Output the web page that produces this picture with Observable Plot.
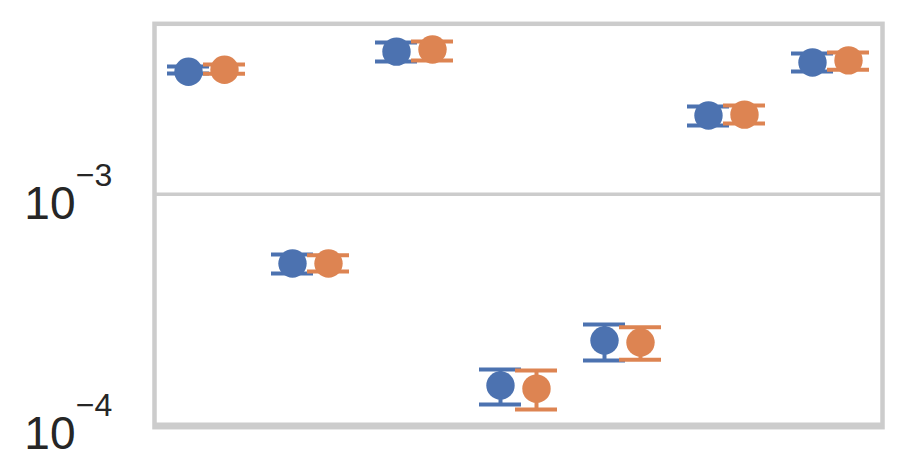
<!DOCTYPE html>
<html>
<head>
<meta charset="utf-8">
<script src="https://cdn.jsdelivr.net/npm/d3@7"></script>
<script src="https://cdn.jsdelivr.net/npm/@observablehq/plot@0.6"></script>
<style>
  html, body { margin: 0; padding: 0; background: #ffffff; }
  #chart svg { display: block; }
</style>
</head>
<body>
<div id="chart"></div>
<script>
// Categories (no tick labels are shown on the x axis)
const groups = ["g1", "g2", "g3", "g4", "g5", "g6", "g7"];

// Series 1 (blue): point estimate and error bar bounds
const blueMean = [3.41e-3, 5.00e-4, 4.17e-3, 1.476e-4, 2.315e-4, 2.20e-3, 3.74e-3];
const blueLow  = [3.35e-3, 4.53e-4, 3.78e-3, 1.22e-4, 1.895e-4, 1.99e-3, 3.42e-3];
const blueHigh = [3.59e-3, 5.48e-4, 4.57e-3, 1.73e-4, 2.72e-4, 2.41e-3, 4.09e-3];

// Series 2 (orange)
const orangeMean = [3.48e-3, 5.00e-4, 4.26e-3, 1.43e-4, 2.27e-4, 2.22e-3, 3.82e-3];
const orangeLow  = [3.34e-3, 4.62e-4, 3.82e-3, 1.16e-4, 1.91e-4, 2.03e-3, 3.48e-3];
const orangeHigh = [3.67e-3, 5.43e-4, 4.61e-3, 1.715e-4, 2.64e-4, 2.43e-3, 4.13e-3];

// Y axis ticks
const yTicks = [1e-4, 1e-3];
const yTickExp = ["\u22124", "\u22123"];
const yDomain = [0.972e-4, 5.51e-3];

const blue = "#4c72b0";
const orange = "#dd8452";

const blueData = groups.map((g, i) => ({g, mean: blueMean[i], low: blueLow[i], high: blueHigh[i]}));
const orangeData = groups.map((g, i) => ({g, mean: orangeMean[i], low: orangeLow[i], high: orangeHigh[i]}));
const tickData = yTicks.map((v, i) => ({v, exp: yTickExp[i]}));

const W = 900, H = 450;
const mL = 154, mR = 18, mT = 23.3, mB = 23.3;
const band = (W - mL - mR) / groups.length;
const off = 18, capHalf = 21;

function series(data, color, dx) {
  const c = band / 2 + dx;
  return [
    Plot.ruleX(data, {x: "g", y1: "low", y2: "high", dx, stroke: color, strokeWidth: 4}),
    Plot.tickY(data, {x: "g", y: "low", stroke: color, strokeWidth: 4,
      insetLeft: c - capHalf, insetRight: band - (c + capHalf)}),
    Plot.tickY(data, {x: "g", y: "high", stroke: color, strokeWidth: 4,
      insetLeft: c - capHalf, insetRight: band - (c + capHalf)}),
    Plot.dot(data, {x: "g", y: "mean", dx, r: 14.2, fill: color, stroke: "none"})
  ];
}

const chart = Plot.plot({
  width: W,
  height: H,
  marginLeft: mL,
  marginRight: mR,
  marginTop: mT,
  marginBottom: mB,
  style: {background: "#ffffff", fontFamily: "'Liberation Sans', Arial, sans-serif", overflow: "visible"},
  x: {type: "band", domain: groups, padding: 0, axis: null},
  y: {type: "log", domain: yDomain, axis: null},
  marks: [
    Plot.ruleY(yTicks, {stroke: "#cccccc", strokeWidth: 3.5}),
    Plot.frame({stroke: "#cccccc", strokeWidth: 4.5}),
    ...series(blueData, blue, -off),
    ...series(orangeData, orange, off),
    Plot.text(tickData, {y: "v", text: () => "10", frameAnchor: "left", textAnchor: "end",
      lineAnchor: "bottom", dx: -79, dy: 24.5, fontSize: 46, fill: "#262626"}),
    Plot.text(tickData, {y: "v", text: "exp", frameAnchor: "left", textAnchor: "start",
      lineAnchor: "bottom", dx: -78.7, dy: -8.5, fontSize: 32, fill: "#262626"})
  ]
});

document.getElementById("chart").appendChild(chart);
</script>
</body>
</html>
